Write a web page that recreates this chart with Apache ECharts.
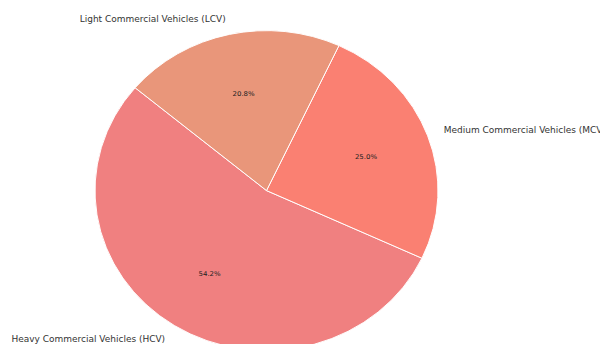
<!DOCTYPE html>
<html>
<head>
<meta charset="utf-8">
<script src="https://cdn.jsdelivr.net/npm/echarts@6/dist/echarts.min.js"></script>
<style>
html,body{margin:0;padding:0;background:#fff;overflow:hidden;width:600px;height:344px;}
#wrap{width:600px;height:344px;overflow:hidden;position:relative;}
#c{width:600px;height:369px;transform-origin:0 0;transform:scaleY(0.9329);position:absolute;left:0;top:0;}
</style>
</head>
<body>
<div id="wrap"><div id="c"></div></div>
<script>
const categories = ['Heavy Commercial Vehicles (HCV)', 'Medium Commercial Vehicles (MCV)', 'Light Commercial Vehicles (LCV)'];
const values = [13, 6, 5];
const colors = ['#F08080', '#FA8072', '#E9967A'];

const total = values.reduce((a, b) => a + b, 0);
const R = 171.5;
const center = [266.5, 204.3];
const fontFam = '"DejaVu Sans", "Noto Sans", sans-serif';

const data = categories.map((name, i) => ({ name, value: values[i], itemStyle: { color: colors[i] } }));

const chart = echarts.init(document.getElementById('c'), null, { renderer: 'svg' });
chart.setOption({
  animation: false,
  backgroundColor: '#fff',
  series: [
    {
      type: 'pie',
      center: center,
      radius: [0, R],
      startAngle: 140,
      clockwise: false,
      avoidLabelOverlap: false,
      silent: true,
      itemStyle: { borderColor: '#fff', borderWidth: 1 },
      label: {
        show: true,
        position: 'outside',
        distanceToLabelLine: 0,
        color: '#333',
        fontSize: 9,
        fontFamily: fontFam,
        formatter: '{b}'
      },
      labelLine: { show: false, length: R * 0.1, length2: 0 },
      data: data
    },
    {
      type: 'pie',
      center: center,
      radius: [R * 0.2, R],
      startAngle: 140,
      clockwise: false,
      avoidLabelOverlap: false,
      silent: true,
      itemStyle: { color: 'rgba(0,0,0,0)', borderWidth: 0 },
      label: {
        show: true,
        position: 'inside',
        color: '#222',
        fontSize: 7,
        fontFamily: fontFam,
        formatter: p => (p.value / total * 100).toFixed(1) + '%'
      },
      labelLine: { show: false },
      data: categories.map((name, i) => ({ name, value: values[i] }))
    }
  ]
});
</script>
</body>
</html>
